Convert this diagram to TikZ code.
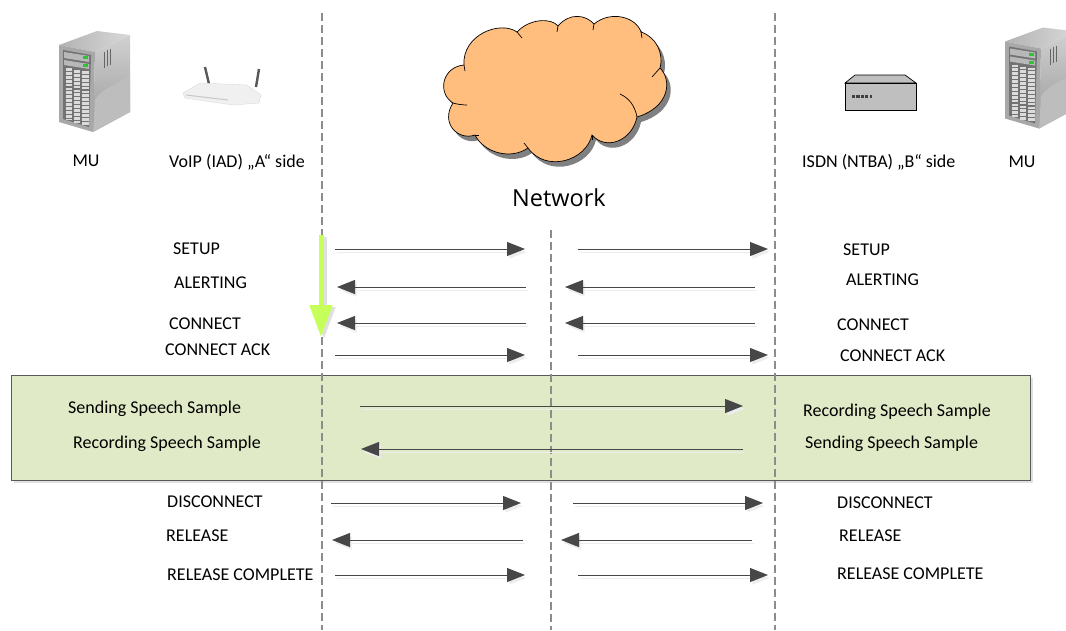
\documentclass[tikz,border=0pt]{standalone}
\usepackage{fontspec}
\setmainfont{Carlito}
\newfontfamily\netfont{Open Sans}
\usetikzlibrary{arrows.meta}
\definecolor{cloudfill}{HTML}{FFBE7D}
\definecolor{boxfill}{HTML}{E1EAC6}
\definecolor{arrowgreen}{HTML}{C6FF5A}
\newcommand{\servericon}{
    \shade[left color=black!30,right color=black!15] (59,45) -- (97,31) -- (130,35) -- (95,52) -- cycle;
    \shade[top color=black!18,bottom color=black!40] (95,52) -- (130,35) -- (130,112) -- (93,132) -- cycle;
    \fill[black!26] (95,100) .. controls (103,86) and (118,86) .. (130,74) -- (130,112) -- (93,132) -- cycle;
    \fill[black!34] (59,45) -- (95,52) -- (93,132) -- (59,122) -- cycle;
    \fill[black!55] (63,50) -- (91,55) -- (89,127) -- (63,119) -- cycle;
    \fill[black!28] (64,52) -- (89,56) -- (89,62) -- (64,58) -- cycle;
    \fill[black!28] (64,60) -- (89,64) -- (89,69) -- (64,65) -- cycle;
    \fill[green!70!black!80] (83,56) rectangle (88,59);
    \fill[green!70!black!80] (83,64) rectangle (88,67);
    \draw[black!14,line width=6.5pt,dash pattern=on 2.8pt off 1.1pt] (69,68) -- (69,120);
    \draw[black!14,line width=6.5pt,dash pattern=on 2.8pt off 1.1pt] (77,70) -- (77,123);
    \draw[black!14,line width=6.5pt,dash pattern=on 2.8pt off 1.1pt] (85.5,71) -- (85.5,125);
    \draw[black!60,line width=1pt] (104,52) -- (104,68);
    \draw[black!60,line width=1pt] (107,50) -- (107,66);
    \draw[black!60,line width=1pt] (110,49) -- (110,65);
}
\tikzset{
  msglabel/.style={anchor=west,inner sep=0pt,text=black,yshift=-1pt,font=\fontsize{18}{20}\selectfont},
  msg/.style={draw=black!72,line width=1pt,-{Triangle[length=18pt,width=14pt]},
    preaction={draw=black!7,transform canvas={shift={(2pt,-3pt)}}}},
  lifeline/.style={draw=black!45,line width=1.3pt,dash pattern=on 8pt off 4pt}
}
\begin{document}
\begin{tikzpicture}[x=1pt,y=-1pt]
\useasboundingbox (0,0) rectangle (1066,630);
\clip (0,0) rectangle (1066,630);

% sample band
\fill[black!12] (14,378) rectangle (1033,483);
\node[draw=black!65,fill=boxfill,line width=0.9pt,minimum width=1019pt,minimum height=105pt,inner sep=0pt,anchor=north west] (band) at (11,374.5) {};

% icons
\begin{scope}
\servericon
\end{scope}
\begin{scope}[shift={(946,-3.5)}]
\servericon
\end{scope}

% router
\draw[black!65,line width=2.4pt] (205,67) -- (209,84);
\draw[black!65,line width=2.4pt] (259,69) -- (256,87);
\fill[black!6,draw=black!14] (183,93) -- (200,83) -- (247,85) -- (261,95) -- (259,103) -- (233,105) -- (185,98) -- cycle;
\draw[black!22,line width=1pt] (186,95) -- (228,100);

% device
\draw[fill=black!25,line width=0.7pt] (845,83) -- (855,75) -- (905,75) -- (916,83) -- cycle;
\draw[fill=black!25,line width=0.7pt] (845,83) rectangle (916,110);
\draw[black!75,line width=3pt,dash pattern=on 3.2pt off 1.2pt] (852,96) -- (872,96);

% cloud
\fill[black!50] (468,70) .. controls (466,40) and (504,25) .. (521,37)
  .. controls (534,23) and (556,23) .. (562,31)
  .. controls (574,17) and (590,20) .. (598,29)
  .. controls (615,15) and (640,22) .. (645,37)
  .. controls (660,42) and (668,58) .. (664,73)
  .. controls (676,85) and (674,112) .. (641,122)
  .. controls (636,146) and (610,156) .. (596,140)
  .. controls (590,166) and (550,178) .. (532,153)
  .. controls (515,165) and (488,158) .. (479,140)
  .. controls (462,146) and (444,128) .. (457,108)
  .. controls (441,98) and (446,72) .. (468,70) -- cycle;
\path[fill=cloudfill,draw=black,line width=0.7pt] (464,65) .. controls (462,35) and (500,20) .. (517,32)
  .. controls (530,18) and (552,18) .. (558,26)
  .. controls (570,12) and (586,15) .. (594,24)
  .. controls (611,10) and (636,17) .. (641,32)
  .. controls (656,37) and (664,53) .. (660,68)
  .. controls (672,80) and (670,107) .. (637,117)
  .. controls (632,141) and (606,151) .. (592,135)
  .. controls (586,161) and (546,173) .. (528,148)
  .. controls (511,160) and (484,153) .. (475,135)
  .. controls (458,141) and (440,123) .. (453,103)
  .. controls (437,93) and (442,67) .. (464,65) -- cycle;
\draw[line width=0.7pt] (464,65) -- (465,71);
\draw[line width=0.7pt] (517,32) -- (522,38);
\draw[line width=0.7pt] (558,26) -- (557,32);
\draw[line width=0.7pt] (594,24) -- (593,30);
\draw[line width=0.7pt] (641,32) -- (642,38);
\draw[line width=0.7pt] (660,68) -- (652,77);
\draw[line width=0.7pt] (637,117) .. controls (635,106) and (629,98) .. (620,94);
\draw[line width=0.7pt] (592,135) -- (592,140);
\draw[line width=0.7pt] (528,148) -- (524,143);
\draw[line width=0.7pt] (475,135) -- (479,135);
\draw[line width=0.7pt] (453,103) .. controls (456,104) and (462,105) .. (467,105);

% header labels
\node[anchor=center,inner sep=0pt,font=\fontsize{18}{20}\selectfont] (muA) at (86,161) {MU};
\node[msglabel] (sideA) at (169,161) {VoIP (IAD) „A“ side};
\node[anchor=center,inner sep=0pt,font=\netfont\fontsize{23.5}{26}\selectfont] (net) at (559,198) {Network};
\node[msglabel] (sideB) at (802,161) {ISDN (NTBA) „B“ side};
\node[anchor=center,inner sep=0pt,font=\fontsize{18}{20}\selectfont] (muB) at (1022,162) {MU};

% left labels
\node[msglabel] (setupA) at (173,248) {SETUP};
\node[msglabel] (alertA) at (174,282) {ALERTING};
\node[msglabel] (connA) at (169,323) {CONNECT};
\node[msglabel] (ackA) at (165,349) {CONNECT ACK};
\node[msglabel] (sendA) at (68,408) {Sending Speech Sample};
\node[msglabel] (recA) at (73,443) {Recording Speech Sample};
\node[msglabel] (discA) at (167,501) {DISCONNECT};
\node[msglabel] (relA) at (166,535) {RELEASE};
\node[msglabel] (compA) at (167,574) {RELEASE COMPLETE};

% right labels
\node[msglabel] (setupB) at (843,249) {SETUP};
\node[msglabel] (alertB) at (846,279) {ALERTING};
\node[msglabel] (connB) at (837,324) {CONNECT};
\node[msglabel] (ackB) at (840,355) {CONNECT ACK};
\node[msglabel] (recB) at (803,411) {Recording Speech Sample};
\node[msglabel] (sendB) at (805,443) {Sending Speech Sample};
\node[msglabel] (discB) at (837,502) {DISCONNECT};
\node[msglabel] (relB) at (839,535) {RELEASE};
\node[msglabel] (compB) at (837,573) {RELEASE COMPLETE};

% lifelines
\coordinate (lineAt) at (322,13);
\coordinate (lineAb) at (322,630);
\coordinate (lineNt) at (551,230);
\coordinate (lineNb) at (551,630);
\coordinate (lineBt) at (775,13);
\coordinate (lineBb) at (775,630);
\draw[lifeline] (lineAt) -- (lineAb);
\draw[lifeline] (lineNt) -- (lineNb);
\draw[lifeline] (lineBt) -- (lineBb);

% time arrow
\coordinate (timeT) at (321,235);
\coordinate (timeB) at (321,337);
\draw[draw=black!12,line width=5pt,-{Triangle[length=32pt,width=22pt]},transform canvas={shift={(3pt,-2pt)}}] (timeT) -- (timeB);
\draw[draw=arrowgreen,fill=arrowgreen,line width=5pt,-{Triangle[length=32pt,width=22pt]}] (timeT) -- (timeB);

% message ends
\coordinate (a1) at (335,249);
\coordinate (b1) at (525,249);
\coordinate (c1) at (578,249);
\coordinate (d1) at (768,249);
\coordinate (a2) at (337,287);
\coordinate (b2) at (526,287);
\coordinate (c2) at (565,287);
\coordinate (d2) at (755,287);
\coordinate (a3) at (337,323);
\coordinate (b3) at (526,323);
\coordinate (c3) at (565,323);
\coordinate (d3) at (755,323);
\coordinate (a4) at (335,355);
\coordinate (b4) at (525,355);
\coordinate (c4) at (578,355);
\coordinate (d4) at (768,355);
\coordinate (a5) at (360,406);
\coordinate (d5) at (743,406);
\coordinate (a6) at (361,449);
\coordinate (d6) at (743,449);
\coordinate (a7) at (331,503);
\coordinate (b7) at (521,503);
\coordinate (c7) at (573,503);
\coordinate (d7) at (763,503);
\coordinate (a8) at (332,540);
\coordinate (b8) at (523,540);
\coordinate (c8) at (561,540);
\coordinate (d8) at (752,540);
\coordinate (a9) at (335,575);
\coordinate (b9) at (525,575);
\coordinate (c9) at (578,575);
\coordinate (d9) at (768,575);

\draw[msg] (a1) -- (b1);
\draw[msg] (c1) -- (d1);
\draw[msg] (b2) -- (a2);
\draw[msg] (d2) -- (c2);
\draw[msg] (b3) -- (a3);
\draw[msg] (d3) -- (c3);
\draw[msg] (a4) -- (b4);
\draw[msg] (c4) -- (d4);
\draw[msg] (a5) -- (d5);
\draw[msg] (d6) -- (a6);
\draw[msg] (a7) -- (b7);
\draw[msg] (c7) -- (d7);
\draw[msg] (b8) -- (a8);
\draw[msg] (d8) -- (c8);
\draw[msg] (a9) -- (b9);
\draw[msg] (c9) -- (d9);
\end{tikzpicture}
\end{document}
